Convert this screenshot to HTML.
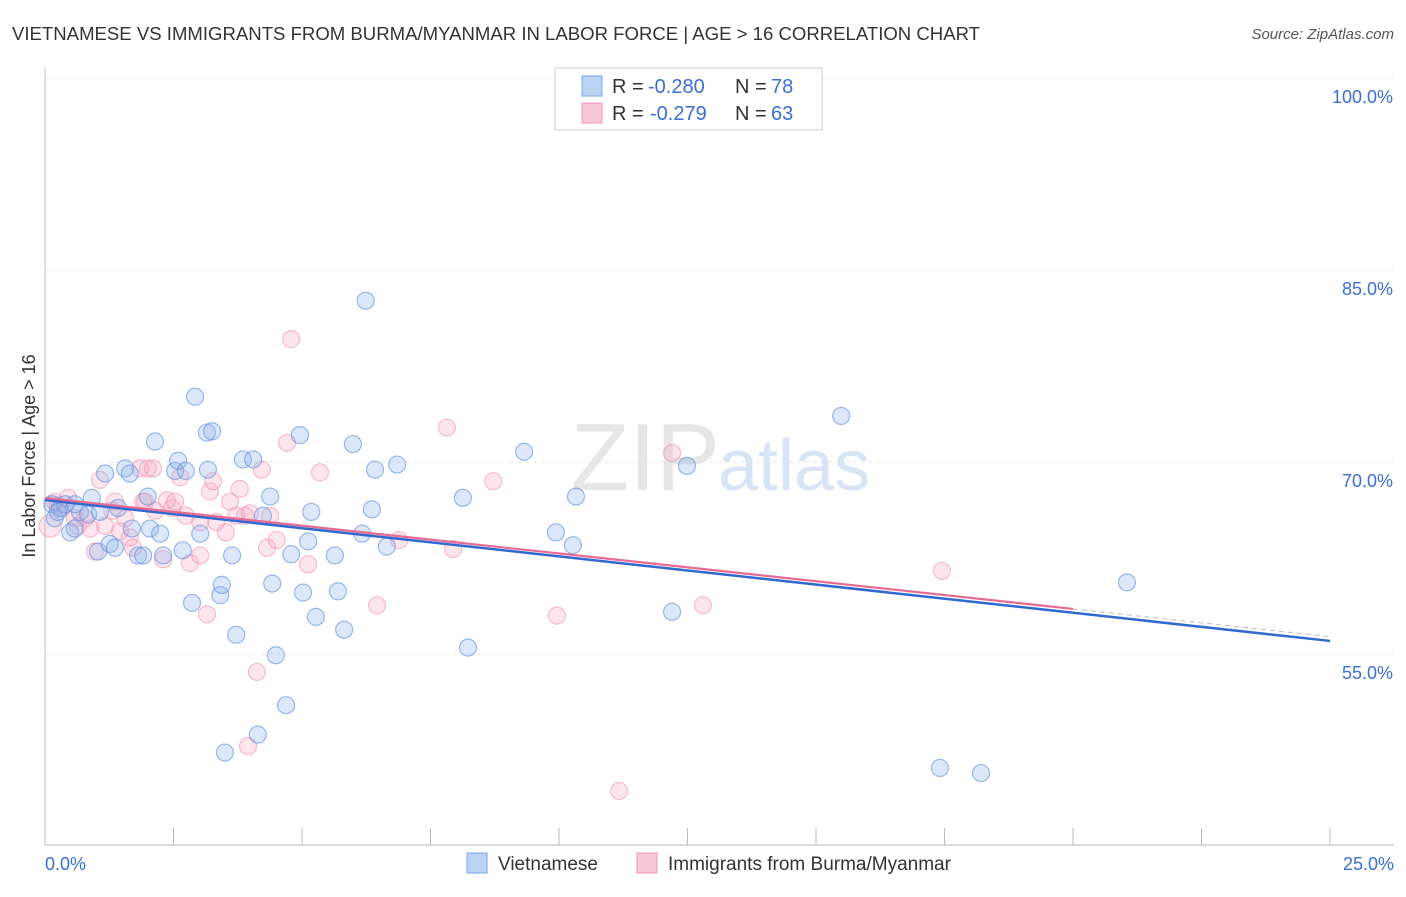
<!DOCTYPE html>
<html><head><meta charset="utf-8"><style>
body{margin:0;background:#fff;font-family:"Liberation Sans",sans-serif}
svg text{font-family:"Liberation Sans",sans-serif}
</style></head><body>
<svg id="chart" width="1406" height="892" xmlns="http://www.w3.org/2000/svg">
<text x="12" y="40" font-size="18" fill="#333" textLength="968" lengthAdjust="spacingAndGlyphs">VIETNAMESE VS IMMIGRANTS FROM BURMA/MYANMAR IN LABOR FORCE | AGE &gt; 16 CORRELATION CHART</text>
<text x="1394" y="39" font-size="15" fill="#555" text-anchor="end" font-style="italic">Source: ZipAtlas.com</text>
<text x="35" y="456" font-size="18" fill="#333" text-anchor="middle" transform="rotate(-90 35 456)">In Labor Force | Age &gt; 16</text>
<text x="720" y="490" font-size="96" fill="#e6e6e6" text-anchor="end" font-family="Liberation Serif">ZIP</text>
<text x="718" y="490" font-size="72" fill="#d8e4f5">atlas</text>
<g id="grid"></g><g id="pts"></g><g id="lines"></g>
<g>
<rect x="555" y="68" width="267" height="62" fill="#fff" stroke="#ccc"/>
<rect x="582" y="76" width="20" height="20" fill="#bcd4f4" stroke="#7aa6e4"/>
<rect x="582" y="103" width="20" height="20" fill="#f9c8d8" stroke="#f09ab5"/>
<text x="612" y="93" font-size="20" fill="#333">R =</text>
<text x="648" y="93" font-size="20" fill="#3a6fd8">-0.280</text>
<text x="735" y="93" font-size="20" fill="#333">N =</text>
<text x="771" y="93" font-size="20" fill="#3a6fd8">78</text>
<text x="612" y="120" font-size="20" fill="#333">R =</text>
<text x="650" y="120" font-size="20" fill="#3a6fd8">-0.279</text>
<text x="735" y="120" font-size="20" fill="#333">N =</text>
<text x="771" y="120" font-size="20" fill="#3a6fd8">63</text>
</g>
<g>
<rect x="467" y="853" width="20" height="20" fill="#bcd4f4" stroke="#7aa6e4"/>
<text x="498" y="870" font-size="19" fill="#333">Vietnamese</text>
<rect x="637" y="853" width="20" height="20" fill="#f9c8d8" stroke="#f09ab5"/>
<text x="668" y="870" font-size="19" fill="#333">Immigrants from Burma/Myanmar</text>
</g>
</svg>
<script>
const xTicks=[0,25];
const yTicks=[55,70,85,100];
const blueX=[0.14,0.19,0.29,0.39,0.49,0.58,0.68,0.84,0.91,1.03,1.07,1.17,1.26,1.36,1.42,1.56,1.65,1.69,1.81,1.91,2.00,2.04,2.14,2.24,2.30,2.53,2.59,2.68,2.74,2.86,2.92,3.02,3.15,3.17,3.25,3.41,3.44,3.50,3.64,3.72,3.85,4.05,4.14,4.24,4.38,4.42,4.49,4.69,4.79,4.96,5.02,5.12,5.18,5.27,5.64,5.70,5.82,5.99,6.17,6.24,6.36,6.42,6.65,6.85,8.13,8.23,9.32,9.94,10.27,10.33,12.20,12.49,15.49,17.41,18.21,21.05,0.25,0.58];
const blueY=[66.7,65.6,66.4,66.7,64.5,64.8,66.1,65.9,67.2,63.0,66.1,69.1,63.6,63.3,66.4,69.5,69.1,64.8,62.7,62.7,67.3,64.8,71.6,64.4,62.7,69.3,70.1,63.1,69.3,59.0,75.1,64.4,72.3,69.4,72.4,59.6,60.4,47.3,62.7,56.5,70.2,70.2,48.7,65.8,67.3,60.5,54.9,51.0,62.8,72.1,59.8,63.8,66.1,57.9,62.7,59.9,56.9,71.4,64.4,82.6,66.3,69.4,63.4,69.8,67.2,55.5,70.8,64.5,63.5,67.3,58.3,69.7,73.6,46.1,45.7,60.6,66.1,66.7];
const pinkX=[0.10,0.19,0.33,0.45,0.58,0.64,0.88,0.97,1.07,1.17,1.31,1.36,1.46,1.56,1.65,1.71,1.85,1.91,2.00,2.10,2.14,2.30,2.37,2.47,2.53,2.63,2.74,2.82,3.02,3.15,3.21,3.27,3.33,3.52,3.60,3.72,3.79,3.89,3.95,4.12,4.22,4.32,4.38,4.51,4.71,4.79,5.12,5.35,6.46,6.89,7.82,7.94,8.72,9.96,11.17,12.20,12.80,17.45,0.25,0.78,1.95,3.02,3.99];
const pinkY=[65.0,66.9,66.4,67.2,65.6,65.0,64.8,63.0,68.6,65.0,66.2,66.9,64.6,65.6,64.1,63.3,69.5,66.9,69.5,69.5,66.2,62.4,67.0,66.4,66.9,68.8,65.8,62.1,62.7,58.1,67.7,68.5,65.3,64.5,66.9,65.8,67.9,65.8,47.8,53.6,69.4,63.3,65.8,63.9,71.5,79.6,62.0,69.2,58.8,63.9,72.7,63.2,68.5,58.0,44.3,70.7,58.8,61.5,66.6,65.6,66.9,65.3,66.0];
const blueLine=[67.03,56.02], pinkLine=[67.19,58.52];
const X=v=>45+v*51.4, Y=v=>78+(100-v)*12.8;
const NS='http://www.w3.org/2000/svg';
function mk(t,a,p){const e=document.createElementNS(NS,t);for(const k in a)e.setAttribute(k,a[k]);p.appendChild(e);return e;}
const g=document.getElementById('grid');
const ax=mk('line',{x1:45,y1:68,x2:45,y2:845,stroke:'#bbb'},g);


const bx=mk('line',{x1:45,y1:845,x2:1394,y2:845,stroke:'#bbb'},g);


for(let i=1;i<=10;i++){const t=mk('line',{x1:45+i*128.5,y1:828,x2:45+i*128.5,y2:845,stroke:'#bbb'},g);

}
yTicks.forEach(v=>{const l=mk('line',{x1:45,y1:Y(v),x2:1394,y2:Y(v),stroke:'#e2e2e2','stroke-dasharray':'4,4'},g);


const t=mk('text',{x:1393,y:Y(v)+25,'font-size':18,fill:'#3a6fd8','text-anchor':'end'},g);t.textContent=v.toFixed(1)+'%';

});
xTicks.forEach((v,i)=>{const t=mk('text',{x:i?1394:45,y:870,'font-size':18,fill:'#3a6fd8','text-anchor':i?'end':'start'},g);t.textContent=v.toFixed(1)+'%';

});
const p=document.getElementById('pts');
pinkX.forEach((x,i)=>{const c=mk('circle',{cx:X(x),cy:Y(pinkY[i]),r:i==0?11:8.5,fill:'rgba(245,170,195,0.3)',stroke:'rgba(238,150,180,0.6)','stroke-width':1.2},p);

});
blueX.forEach((x,i)=>{const c=mk('circle',{cx:X(x),cy:Y(blueY[i]),r:8.5,fill:'rgba(140,180,235,0.3)',stroke:'rgba(95,140,220,0.6)','stroke-width':1.2},p);

});
const L=document.getElementById('lines');
const pe=pinkLine[0]+(pinkLine[1]-pinkLine[0])*(25/20);
const d=mk('line',{x1:X(20),y1:Y(pinkLine[1]),x2:X(25),y2:Y(pe),stroke:'#bbb','stroke-dasharray':'5,4'},L);


const bl=mk('line',{x1:X(0),y1:Y(blueLine[0]),x2:X(25),y2:Y(blueLine[1]),stroke:'#3069d0','stroke-width':2.5},L);


const pl=mk('line',{x1:X(0),y1:Y(pinkLine[0]),x2:X(20),y2:Y(pinkLine[1]),stroke:'#e86a92','stroke-width':2.2},L);


</script>
</body></html>
